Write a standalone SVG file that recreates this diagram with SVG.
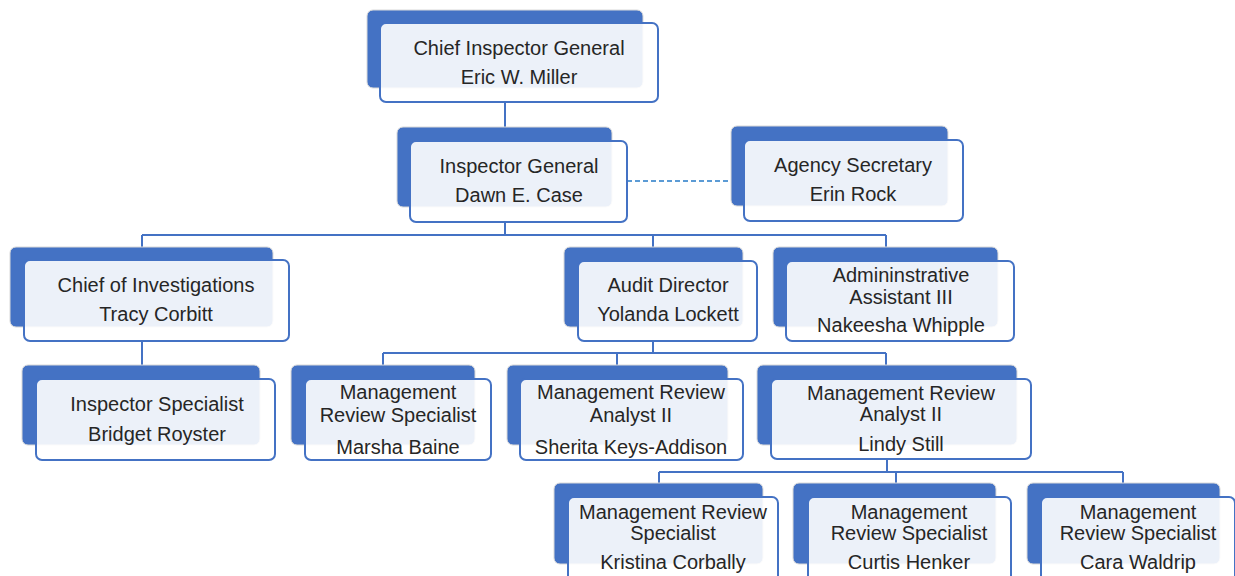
<svg xmlns="http://www.w3.org/2000/svg" width="1235" height="576" viewBox="0 0 1235 576">
<style>
.bk{fill:#4472C4;stroke:#d9d9d9;stroke-width:1}
.fr{fill:#ffffff;fill-opacity:0.9;stroke:#4472C4;stroke-width:2}
.t{font-family:"Liberation Sans",Arial,sans-serif;font-size:20px;fill:#262626;text-anchor:middle}
.c{stroke:#4472C4;stroke-width:2;fill:none}
.d{stroke:#5B9BD5;stroke-width:2;fill:none;stroke-dasharray:5 3}
</style>
<rect width="1235" height="576" fill="#ffffff"/>
<g id="connectors">
<path class="c" d="M505 102V140"/>
<path class="c" d="M505 222V235M142 235H886M142 235V258M653 235V261M886 235V261"/>
<path class="d" d="M627 181H744"/>
<path class="c" d="M142 341V379"/>
<path class="c" d="M653 341V353M383 353H886M383 353V379M617 353V379M886 353V379"/>
<path class="c" d="M887 459V472M659 472H1123M659 472V497M896 472V497M1123 472V497"/>
</g>
<g id="n1">
<rect class="bk" x="367" y="10" width="276" height="78" rx="6"/>
<rect class="fr" x="380" y="23" width="278" height="79" rx="6"/>
<text class="t" x="519" y="55">Chief Inspector General</text>
<text class="t" x="519" y="84">Eric W. Miller</text>
</g>
<g id="n2">
<rect class="bk" x="397" y="127" width="215" height="80" rx="6"/>
<rect class="fr" x="410" y="141" width="217" height="81" rx="6"/>
<text class="t" x="519" y="173">Inspector General</text>
<text class="t" x="519" y="202">Dawn E. Case</text>
</g>
<g id="n3">
<rect class="bk" x="731" y="126" width="217" height="80" rx="6"/>
<rect class="fr" x="744" y="140" width="219" height="81" rx="6"/>
<text class="t" x="853" y="172">Agency Secretary</text>
<text class="t" x="853" y="201">Erin Rock</text>
</g>
<g id="n4">
<rect class="bk" x="10" y="247" width="263" height="80" rx="6"/>
<rect class="fr" x="24" y="260" width="265" height="81" rx="6"/>
<text class="t" x="156" y="292">Chief of Investigations</text>
<text class="t" x="156" y="321">Tracy Corbitt</text>
</g>
<g id="n5">
<rect class="bk" x="564" y="247" width="179" height="80" rx="6"/>
<rect class="fr" x="578" y="261" width="179" height="80" rx="6"/>
<text class="t" x="668" y="292">Audit Director</text>
<text class="t" x="668" y="321">Yolanda Lockett</text>
</g>
<g id="n6">
<rect class="bk" x="773" y="247" width="225" height="80" rx="6"/>
<rect class="fr" x="786" y="261" width="228" height="80" rx="6"/>
<text class="t" x="901" y="282">Admininstrative</text>
<text class="t" x="901" y="304">Assistant III</text>
<text class="t" x="901" y="332">Nakeesha Whipple</text>
</g>
<g id="n7">
<rect class="bk" x="22" y="365" width="238" height="80" rx="6"/>
<rect class="fr" x="36" y="379" width="239" height="81" rx="6"/>
<text class="t" x="157" y="411">Inspector Specialist</text>
<text class="t" x="157" y="441">Bridget Royster</text>
</g>
<g id="n8">
<rect class="bk" x="291" y="365" width="184" height="80" rx="6"/>
<rect class="fr" x="305" y="379" width="186" height="81" rx="6"/>
<text class="t" x="398" y="399">Management</text>
<text class="t" x="398" y="422">Review Specialist</text>
<text class="t" x="398" y="454">Marsha Baine</text>
</g>
<g id="n9">
<rect class="bk" x="507" y="365" width="221" height="80" rx="6"/>
<rect class="fr" x="520" y="379" width="223" height="81" rx="6"/>
<text class="t" x="631" y="399">Management Review</text>
<text class="t" x="631" y="422">Analyst II</text>
<text class="t" x="631" y="454">Sherita Keys-Addison</text>
</g>
<g id="n10">
<rect class="bk" x="757" y="365" width="260" height="80" rx="6"/>
<rect class="fr" x="771" y="379" width="260" height="80" rx="6"/>
<text class="t" x="901" y="400">Management Review</text>
<text class="t" x="901" y="421">Analyst II</text>
<text class="t" x="901" y="451">Lindy Still</text>
</g>
<g id="n11">
<rect class="bk" x="554" y="483" width="209" height="81" rx="6"/>
<rect class="fr" x="568" y="497" width="210" height="90" rx="6"/>
<text class="t" x="673" y="519">Management Review</text>
<text class="t" x="673" y="540">Specialist</text>
<text class="t" x="673" y="569">Kristina Corbally</text>
</g>
<g id="n12">
<rect class="bk" x="793" y="483" width="203" height="81" rx="6"/>
<rect class="fr" x="808" y="497" width="203" height="90" rx="6"/>
<text class="t" x="909" y="519">Management</text>
<text class="t" x="909" y="540">Review Specialist</text>
<text class="t" x="909" y="569">Curtis Henker</text>
</g>
<g id="n13">
<rect class="bk" x="1027" y="483" width="193" height="81" rx="6"/>
<rect class="fr" x="1041" y="497" width="194" height="90" rx="6"/>
<text class="t" x="1138" y="519">Management</text>
<text class="t" x="1138" y="540">Review Specialist</text>
<text class="t" x="1138" y="569">Cara Waldrip</text>
</g>
</svg>
